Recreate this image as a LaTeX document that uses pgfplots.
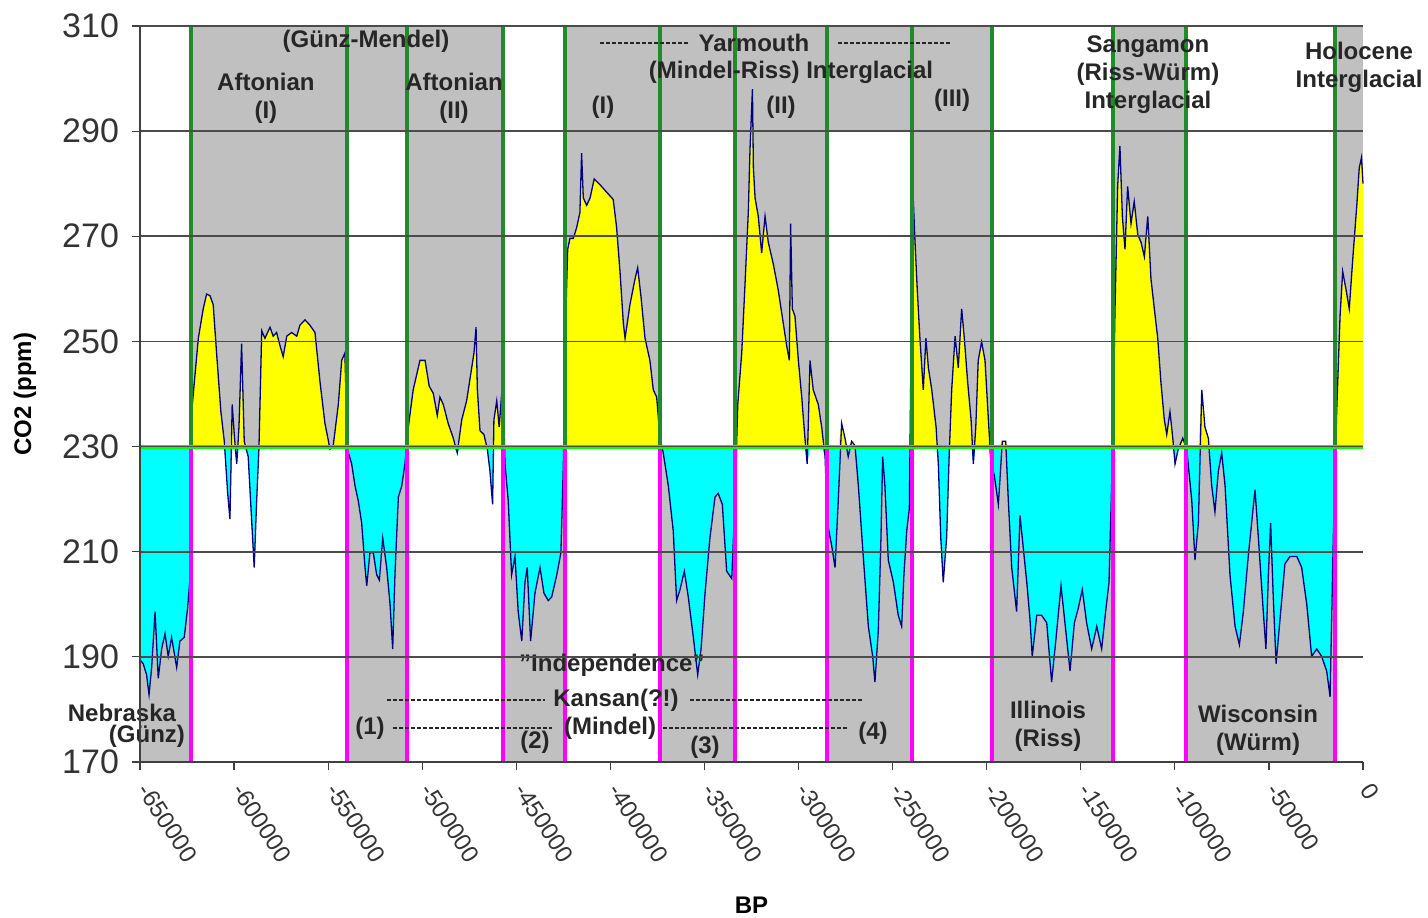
\documentclass[border=0pt]{standalone}
\usepackage{fontspec}
\setmainfont{Liberation Sans}
\usepackage{pgfplots}
\usepackage{pgfplotstable}
\pgfplotsset{compat=1.18}

\definecolor{band}{HTML}{C0C0C0}
\definecolor{warm}{HTML}{FFFF00}
\definecolor{cold}{HTML}{00FFFF}
\definecolor{base}{HTML}{00FF00}
\definecolor{igl}{RGB}{30,140,40}
\definecolor{gla}{HTML}{FF00FF}
\definecolor{co2line}{HTML}{000080}

% CO2 (ppm) vs years BP
\pgfplotstableread{
x y
-650000 189.4
-648300 188.7
-646500 186.6
-645200 182.8
-643800 188.0
-642000 198.6
-640300 185.9
-638500 191.5
-636700 194.4
-635000 190.1
-633200 193.7
-630500 188.0
-628800 193.0
-626500 193.7
-624700 199.3
-623400 205.0
-622200 238.0
-619000 250.6
-616400 256.2
-614600 259.0
-612800 258.7
-611100 257.0
-609300 247.8
-607000 236.6
-605200 231.0
-603400 221.1
-602200 216.2
-601000 238.0
-599900 232.3
-598600 226.7
-597400 233.7
-596000 249.6
-594600 231.0
-592500 228.1
-590700 216.2
-589300 207.0
-588000 219.7
-586800 229.5
-585300 252.0
-583600 250.6
-580900 252.7
-579200 251.0
-577400 251.7
-575600 249.2
-573900 247.1
-572000 251.0
-569400 251.7
-566700 251.0
-565000 253.1
-562300 254.1
-559700 253.1
-557000 251.7
-554300 242.2
-551700 234.4
-549000 229.5
-547300 230.2
-544600 238.0
-542800 246.4
-541100 247.8
-539800 229.5
-537500 226.7
-535700 222.5
-534000 219.7
-532200 215.5
-530400 207.0
-529500 203.5
-527800 209.8
-526000 209.8
-524200 205.6
-522800 204.6
-521000 212.6
-518900 207.0
-517100 200.0
-515700 191.5
-514500 205.6
-512700 220.4
-510900 222.5
-509200 226.7
-507400 233.7
-504800 240.8
-501200 246.4
-498500 246.4
-496300 241.5
-494100 240.1
-492000 235.9
-490600 239.4
-488800 238.0
-486200 234.4
-483500 231.6
-481400 228.8
-479000 235.1
-476400 238.7
-473700 245.0
-472500 247.8
-471400 252.7
-470700 240.8
-469300 233.0
-467200 232.3
-465400 229.5
-464000 225.3
-462600 219.0
-461900 235.1
-460400 238.7
-459100 233.7
-457200 242.9
-456000 226.7
-454300 219.7
-452500 205.6
-450700 209.1
-449000 198.6
-447100 193.0
-445400 204.2
-444200 207.0
-442400 193.0
-440100 202.1
-437400 207.0
-435300 202.1
-433000 200.7
-431200 201.4
-428500 205.6
-426300 209.8
-425000 226.7
-423800 253.4
-422700 267.5
-421500 269.6
-419700 269.6
-417900 271.7
-416200 274.5
-415300 285.8
-414400 277.3
-412600 275.9
-410800 277.3
-408600 280.9
-405500 279.8
-402000 278.4
-398500 277.0
-396700 271.7
-394900 263.3
-393100 253.4
-392200 250.6
-389600 257.0
-386900 261.9
-385500 264.0
-383700 258.4
-381600 250.6
-379000 246.4
-377200 240.8
-375400 239.4
-373600 231.6
-371900 228.8
-369200 222.5
-366600 214.0
-364800 200.7
-363000 202.8
-360700 206.3
-358600 201.4
-355900 193.7
-353600 186.6
-351800 191.5
-349700 202.1
-347100 212.6
-344400 220.4
-342700 221.1
-340500 219.0
-338200 206.3
-335500 204.9
-333800 219.7
-332300 238.0
-330200 247.8
-328500 260.5
-326700 274.5
-325800 286.5
-324500 298.0
-324000 283.0
-323100 277.3
-321400 273.8
-319600 266.8
-317800 273.8
-316100 268.9
-313400 264.7
-310800 259.8
-308100 253.4
-306300 249.2
-304900 246.4
-304200 272.4
-303300 256.2
-301900 254.8
-300100 246.4
-298300 239.4
-296600 231.6
-295400 226.7
-293900 246.4
-292200 240.8
-289500 238.0
-287700 233.7
-285900 228.1
-284700 215.5
-282400 211.2
-280600 207.0
-278900 219.7
-277100 234.4
-275300 231.6
-273600 228.1
-271800 231.0
-270000 230.2
-268200 222.5
-265600 209.1
-262900 195.8
-260600 190.1
-259400 185.2
-257600 195.1
-256200 212.6
-255300 228.1
-254100 222.5
-252300 208.4
-249600 204.2
-247000 197.9
-245200 195.8
-244000 205.6
-242500 214.0
-241100 218.3
-239300 279.5
-238100 268.9
-236900 259.8
-235500 250.6
-233700 240.8
-232300 250.6
-231000 245.0
-229200 240.8
-226900 233.7
-225700 226.7
-224400 212.6
-223100 204.2
-221300 212.6
-219900 228.8
-218600 240.8
-216800 251.0
-215100 245.0
-213300 256.2
-211900 250.6
-210100 242.2
-208300 235.1
-207100 226.7
-205800 233.7
-204500 246.4
-202700 249.9
-200900 246.4
-199100 235.1
-197700 226.7
-196000 224.6
-193800 219.0
-191700 231.0
-189900 231.0
-188500 219.7
-186700 207.0
-184100 198.6
-182300 216.9
-180500 210.5
-178700 204.2
-177000 197.2
-175800 190.1
-173400 197.9
-170800 197.9
-168100 196.5
-165500 185.2
-163300 193.0
-160500 203.5
-158000 195.1
-155700 187.3
-153400 196.5
-151300 199.3
-149200 202.8
-146900 196.5
-144200 191.5
-141500 195.8
-138900 191.5
-136800 198.6
-135000 204.2
-133200 228.1
-131800 256.2
-130400 279.5
-129200 287.2
-127900 273.8
-126500 267.5
-125100 279.5
-123300 272.4
-121600 276.6
-119700 270.3
-118000 268.9
-116200 266.1
-114400 273.8
-112700 261.9
-110900 256.2
-109100 250.6
-107400 242.2
-105600 235.1
-104300 232.3
-102600 236.6
-101100 231.6
-99900 226.7
-98200 229.5
-95800 231.6
-93700 229.5
-91000 219.7
-89300 208.4
-87500 215.5
-85700 240.8
-84000 233.7
-82200 231.6
-80400 222.5
-78700 217.6
-76900 225.3
-75100 228.8
-73300 222.5
-70700 205.6
-68000 195.8
-65700 192.3
-63600 198.6
-61000 209.1
-57400 221.8
-55600 212.6
-53000 198.6
-51600 191.5
-50300 205.6
-49100 215.5
-47700 201.4
-46200 188.7
-44100 197.2
-41500 207.7
-38800 209.1
-35200 209.1
-32600 207.0
-29900 200.0
-27300 190.1
-24600 191.5
-22000 190.1
-19300 187.3
-17500 182.4
-15800 212.6
-14000 236.6
-12200 254.8
-10800 263.3
-9000 259.8
-7300 256.2
-5500 265.4
-3300 275.9
-2000 283.0
-800 285.0
0 280.0
}\cotwo

\begin{document}
\begin{tikzpicture}
\begin{axis}[
    name=ax,
    scale only axis,
    width=611.5pt, height=368pt,
    xmin=-650000, xmax=0,
    ymin=170, ymax=310,
    axis x line*=bottom,
    axis y line*=left,
    axis line style={black!75, line width=0.8pt},
    axis on top,
    clip=false,
    tick align=outside,
    major tick length=4pt,
    tick style={black!75, line width=0.6pt},
    scaled x ticks=false,
    xtick={-650000,-600000,-550000,-500000,-450000,-400000,-350000,-300000,-250000,-200000,-150000,-100000,-50000,0},
    xticklabels={-650000,-600000,-550000,-500000,-450000,-400000,-350000,-300000,-250000,-200000,-150000,-100000,-50000,0},
    ytick={170,190,210,230,250,270,290,310},
    yticklabels={170,190,210,230,250,270,290,310},
    xticklabel style={font=\fontsize{12}{14}\selectfont, rotate=-57, anchor=west, text=black!80, xshift=4.2pt, yshift=-2.7pt},
    yticklabel style={font=\fontsize{17}{20}\selectfont, text=black!80, xshift=-3pt},
    ymajorgrids,
    grid style={black!70, line width=0.8pt},
    xlabel={BP},
    ylabel={CO2 (ppm)},
    xlabel style={font=\fontsize{12}{14}\selectfont\bfseries, at={(axis description cs:0.5,0)}, anchor=center, yshift=-71.5pt},
    ylabel style={font=\fontsize{12}{14}\selectfont\bfseries, at={(axis description cs:0,0.5)}, anchor=center, yshift=57.5pt},
]
% glacial columns (grey below 230)
\addplot[fill=band, draw=none] coordinates {(-650000,170) (-650000,230) (-623000,230) (-623000,170)} -- cycle;
\addplot[fill=band, draw=none] coordinates {(-540000,170) (-540000,230) (-508000,230) (-508000,170)} -- cycle;
\addplot[fill=band, draw=none] coordinates {(-457000,170) (-457000,230) (-424000,230) (-424000,170)} -- cycle;
\addplot[fill=band, draw=none] coordinates {(-373500,170) (-373500,230) (-334000,230) (-334000,170)} -- cycle;
\addplot[fill=band, draw=none] coordinates {(-285000,170) (-285000,230) (-239500,230) (-239500,170)} -- cycle;
\addplot[fill=band, draw=none] coordinates {(-197000,170) (-197000,230) (-133000,230) (-133000,170)} -- cycle;
\addplot[fill=band, draw=none] coordinates {(-94000,170) (-94000,230) (-15000,230) (-15000,170)} -- cycle;
% interglacial columns (grey above 230)
\addplot[fill=band, draw=none] coordinates {(-623000,230) (-623000,310) (-540000,310) (-540000,230)} -- cycle;
\addplot[fill=band, draw=none] coordinates {(-508000,230) (-508000,310) (-457000,310) (-457000,230)} -- cycle;
\addplot[fill=band, draw=none] coordinates {(-424000,230) (-424000,310) (-373500,310) (-373500,230)} -- cycle;
\addplot[fill=band, draw=none] coordinates {(-334000,230) (-334000,310) (-285000,310) (-285000,230)} -- cycle;
\addplot[fill=band, draw=none] coordinates {(-239500,230) (-239500,310) (-197000,310) (-197000,230)} -- cycle;
\addplot[fill=band, draw=none] coordinates {(-133000,230) (-133000,310) (-94000,310) (-94000,230)} -- cycle;
\addplot[fill=band, draw=none] coordinates {(-15000,230) (-15000,310) (0,310) (0,230)} -- cycle;
% top band of the two long interglacial groups
\addplot[fill=band, draw=none] coordinates {(-623000,290) (-623000,310) (-457000,310) (-457000,290)} -- cycle;
\addplot[fill=band, draw=none] coordinates {(-424000,290) (-424000,310) (-197000,310) (-197000,290)} -- cycle;

% CO2 above / below the 230 ppm line
\addplot[fill=warm, draw=none] table[x=x, y expr={max(\thisrow{y},230)}] {\cotwo} -- (axis cs:0,230) -- cycle;
\addplot[fill=cold, draw=none] table[x=x, y expr={min(\thisrow{y},230)}] {\cotwo} -- (axis cs:-650000,230) -- cycle;
\addplot[co2line, line width=0.65pt] table[x=x, y=y] {\cotwo};

% period boundaries
\pgfplotsinvokeforeach{-623000,-540000,-508000,-457000,-424000,-373500,-334000,-285000,-239500,-197000,-133000,-94000,-15000}{
  \addplot[igl, line width=2pt] coordinates {(#1,230) (#1,310)};
  \addplot[gla, line width=2pt] coordinates {(#1,170) (#1,230)};
}
\addplot[base, line width=2pt] coordinates {(-650000,230) (0,230)};

% period names
\begin{scope}[every node/.style={font=\fontsize{12}{14}\selectfont\bfseries, align=center, text=black!85, inner sep=0pt}]
\node at (axis cs:-529900,307.0) {(Günz-Mendel)};
\node at (axis cs:-583100,296.3) {Aftonian\\(I)};
\node at (axis cs:-483100,296.3) {Aftonian\\(II)};
\node at (axis cs:-323700,306.8) {Yarmouth};
\node at (axis cs:-304000,301.2) {(Mindel-Riss) Interglacial};
\node at (axis cs:-403900,294.6) {(I)};
\node at (axis cs:-309300,294.6) {(II)};
\node at (axis cs:-218400,295.9) {(III)};
\node at (axis cs:-114300,300.8) {Sangamon\\(Riss-Würm)\\Interglacial};
\node at (axis cs:-2100,302.1) {Holocene\\Interglacial};
\node at (axis cs:-659600,179.3) {Nebraska};
\node at (axis cs:-646300,174.8) {(Günz)};
\node at (axis cs:-399200,188.4) {\symbol{34}Independence\symbol{34}};
\node at (axis cs:-397000,181.8) {Kansan(?!)};
\node at (axis cs:-527800,176.5) {(1)};
\node at (axis cs:-400200,176.5) {(Mindel)};
\node at (axis cs:-440100,173.8) {(2)};
\node at (axis cs:-349700,172.8) {(3)};
\node at (axis cs:-260400,175.5) {(4)};
\node at (axis cs:-167400,176.8) {Illinois\\(Riss)};
\node at (axis cs:-55800,176.1) {Wisconsin\\(Würm)};
\end{scope}
\begin{scope}[black!85, line width=0.8pt, dash pattern=on 2.2pt off 0.8pt]
\draw (axis cs:-405500,306.8) -- (axis cs:-357700,306.8);
\draw (axis cs:-279000,306.8) -- (axis cs:-219500,306.8);
\draw (axis cs:-518700,181.8) -- (axis cs:-434800,181.8);
\draw (axis cs:-357700,181.8) -- (axis cs:-265700,181.8);
\draw (axis cs:-515500,176.5) -- (axis cs:-431000,176.5);
\draw (axis cs:-372000,176.5) -- (axis cs:-274300,176.5);
\end{scope}
\end{axis}
\pgfresetboundingbox
\path ([xshift=-70pt,yshift=-77.5pt]ax.south west) rectangle ([xshift=32.5pt,yshift=13pt]ax.north east);
\end{tikzpicture}
\end{document}
